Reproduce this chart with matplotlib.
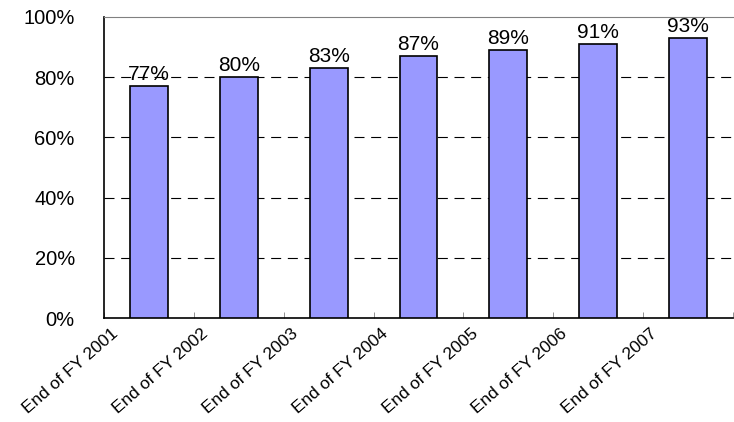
import numpy as np
import matplotlib.pyplot as plt

plt.rcParams['font.family'] = ['Liberation Sans', 'DejaVu Sans']

categories = ["End of FY 2001", "End of FY 2002", "End of FY 2003", "End of FY 2004",
              "End of FY 2005", "End of FY 2006", "End of FY 2007"]
values = [77, 80, 83, 87, 89, 91, 93]
labels = ["77%", "80%", "83%", "87%", "89%", "91%", "93%"]

fig = plt.figure(figsize=(7.34, 4.22), dpi=100)
ax = fig.add_axes([104 / 734, 1 - 318 / 422, 629 / 734, 301 / 422])

x = np.arange(len(categories))
ax.bar(x, values, width=0.42, color="#9999FF", edgecolor="black", linewidth=1.2, zorder=3)
for xi, v, lab in zip(x, values, labels):
    ax.text(xi, v + 0.8, lab, ha="center", va="bottom", fontsize=15, zorder=4)

ax.set_xlim(-0.5, len(categories) - 0.5)
ax.set_ylim(0, 100)
ax.set_yticks([0, 20, 40, 60, 80, 100])
ax.set_yticklabels(["0%", "20%", "40%", "60%", "80%", "100%"], fontsize=14.5)
ax.tick_params(axis="y", length=0, pad=21)

for yv in [20, 40, 60, 80]:
    ax.axhline(yv, color="black", linestyle=(0, (9, 6)), linewidth=0.8, zorder=1)

# category boundary ticks, labels shifted left of bar centres
ax.set_xticks(np.arange(len(categories) + 1) - 0.5, minor=True)
ax.tick_params(axis="x", which="minor", direction="in", length=4, color="grey")
ax.set_xticks(x - 0.42)
ax.set_xticklabels(categories, rotation=41, ha="right", rotation_mode="anchor", fontsize=12.5)
ax.tick_params(axis="x", which="major", length=0, pad=6)

ax.spines["right"].set_visible(False)
ax.spines["top"].set_color("grey")
ax.spines["left"].set_linewidth(1.2)
ax.spines["bottom"].set_linewidth(1.2)

fig.savefig("out.png", dpi=100)
